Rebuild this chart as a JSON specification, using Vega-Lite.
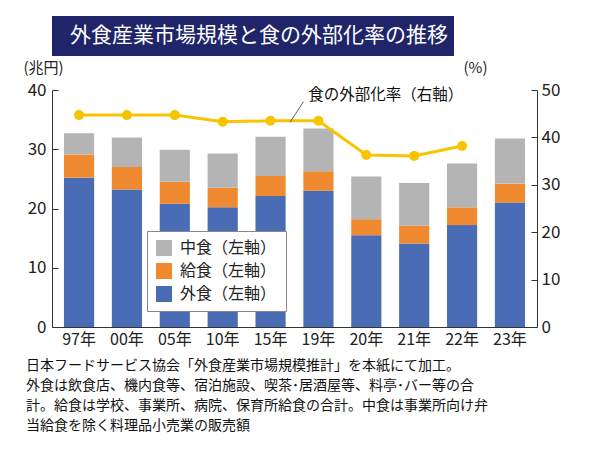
{
  "$schema": "https://vega.github.io/schema/vega-lite/v6.json",
  "padding": {"left": 23, "top": 16, "right": 5, "bottom": 5},
  "bounds": "flush",
  "spacing": 34,
  "datasets": {
    "bars": [
      {"year": "97年", "kind": "外食（左軸）", "value": 25.2},
      {"year": "97年", "kind": "給食（左軸）", "value": 3.9},
      {"year": "97年", "kind": "中食（左軸）", "value": 3.6},
      {"year": "00年", "kind": "外食（左軸）", "value": 23.2},
      {"year": "00年", "kind": "給食（左軸）", "value": 3.8},
      {"year": "00年", "kind": "中食（左軸）", "value": 5.0},
      {"year": "05年", "kind": "外食（左軸）", "value": 20.8},
      {"year": "05年", "kind": "給食（左軸）", "value": 3.7},
      {"year": "05年", "kind": "中食（左軸）", "value": 5.4},
      {"year": "10年", "kind": "外食（左軸）", "value": 20.2},
      {"year": "10年", "kind": "給食（左軸）", "value": 3.3},
      {"year": "10年", "kind": "中食（左軸）", "value": 5.8},
      {"year": "15年", "kind": "外食（左軸）", "value": 22.1},
      {"year": "15年", "kind": "給食（左軸）", "value": 3.4},
      {"year": "15年", "kind": "中食（左軸）", "value": 6.6},
      {"year": "19年", "kind": "外食（左軸）", "value": 23.0},
      {"year": "19年", "kind": "給食（左軸）", "value": 3.3},
      {"year": "19年", "kind": "中食（左軸）", "value": 7.2},
      {"year": "20年", "kind": "外食（左軸）", "value": 15.5},
      {"year": "20年", "kind": "給食（左軸）", "value": 2.7},
      {"year": "20年", "kind": "中食（左軸）", "value": 7.2},
      {"year": "21年", "kind": "外食（左軸）", "value": 14.1},
      {"year": "21年", "kind": "給食（左軸）", "value": 3.0},
      {"year": "21年", "kind": "中食（左軸）", "value": 7.2},
      {"year": "22年", "kind": "外食（左軸）", "value": 17.2},
      {"year": "22年", "kind": "給食（左軸）", "value": 3.0},
      {"year": "22年", "kind": "中食（左軸）", "value": 7.4},
      {"year": "23年", "kind": "外食（左軸）", "value": 21.0},
      {"year": "23年", "kind": "給食（左軸）", "value": 3.2},
      {"year": "23年", "kind": "中食（左軸）", "value": 7.6}
    ],
    "rate": [
      {"year": "97年", "rate": 44.7},
      {"year": "00年", "rate": 44.7},
      {"year": "05年", "rate": 44.7},
      {"year": "10年", "rate": 43.3},
      {"year": "15年", "rate": 43.5},
      {"year": "19年", "rate": 43.5},
      {"year": "20年", "rate": 36.3},
      {"year": "21年", "rate": 36.1},
      {"year": "22年", "rate": 38.2}
    ]
  },
  "vconcat": [
    {
      "width": 402,
      "height": 40,
      "view": {"fill": "#1f2568", "stroke": null},
      "data": {"values": [{"t": "外食産業市場規模と食の外部化率の推移"}]},
      "mark": {"type": "text", "color": "#ffffff", "fontSize": 21, "align": "center", "baseline": "middle", "dx": 6},
      "encoding": {"text": {"field": "t"}}
    },
    {
      "width": 485,
      "height": 237,
      "title": {
        "text": [
          "日本フードサービス協会「外食産業市場規模推計」を本紙にて加工。",
          "外食は飲食店、機内食等、宿泊施設、喫茶･居酒屋等、料亭･バー等の合",
          "計。給食は学校、事業所、病院、保育所給食の合計。中食は事業所向け弁",
          "当給食を除く料理品小売業の販売額"
        ],
        "orient": "bottom",
        "anchor": "start",
        "frame": "group",
        "dx": -26,
        "offset": 12,
        "fontSize": 14,
        "lineHeight": 20,
        "fontWeight": "normal",
        "color": "#111111"
      },
      "layer": [
        {
          "data": {"name": "bars"},
          "transform": [
            {"calculate": "indexof(['外食（左軸）', '給食（左軸）', '中食（左軸）'], datum.kind)", "as": "stackorder"}
          ],
          "mark": {"type": "bar"},
          "encoding": {
            "x": {
              "field": "year", "type": "nominal",
              "scale": {"domain": ["97年", "00年", "05年", "10年", "15年", "19年", "20年", "21年", "22年", "23年"], "paddingInner": 0.37, "paddingOuter": 0.25},
              "axis": {"title": null, "labelAngle": 0, "ticks": false, "domainColor": "#333333", "labelFontSize": 16, "labelColor": "#222222", "labelPadding": 4}
            },
            "y": {
              "field": "value", "type": "quantitative", "stack": "zero",
              "scale": {"domain": [0, 40]},
              "axis": {"title": "(兆円)", "titleAngle": 0, "titleAlign": "left", "titleBaseline": "middle", "titleX": -29, "titleY": -23, "titleFontSize": 15, "titleFontWeight": "normal", "titleColor": "#222222", "values": [0, 10, 20, 30, 40], "grid": false, "tickSize": -6, "labelPadding": 12, "domainColor": "#333333", "tickColor": "#333333", "labelFontSize": 17, "labelColor": "#222222"}
            },
            "order": {"field": "stackorder", "type": "quantitative"},
            "color": {
              "field": "kind", "type": "nominal",
              "sort": ["中食（左軸）", "給食（左軸）", "外食（左軸）"],
              "scale": {"domain": ["中食（左軸）", "給食（左軸）", "外食（左軸）"], "range": ["#b4b4b4", "#f08a30", "#4a6cb4"]},
              "legend": {"title": null, "orient": "none", "legendX": 95, "legendY": 215, "fillColor": "#ffffff", "strokeColor": "#888888", "padding": 9, "symbolType": "square", "symbolSize": 256, "symbolStrokeWidth": 0, "symbolOpacity": 1, "labelFontSize": 16, "labelColor": "#222222", "rowPadding": 7, "labelOffset": 8}
            }
          }
        },
        {
          "layer": [
            {
              "data": {"name": "rate"},
              "mark": {"type": "line", "color": "#f8c300", "strokeWidth": 3},
              "encoding": {
                "x": {"field": "year", "type": "nominal"},
                "y": {
                  "field": "rate", "type": "quantitative",
                  "scale": {"domain": [0, 50]},
                  "axis": {"orient": "right", "title": "(%)", "titleAngle": 0, "titleAlign": "left", "titleBaseline": "middle", "titleX": -74, "titleY": -23, "titleFontSize": 15, "titleFontWeight": "normal", "titleColor": "#222222", "values": [0, 10, 20, 30, 40, 50], "grid": false, "tickSize": -6, "labelPadding": 10, "domainColor": "#333333", "tickColor": "#333333", "labelFontSize": 17, "labelColor": "#222222"}
                }
              }
            },
            {
              "data": {"name": "rate"},
              "mark": {"type": "point", "filled": true, "color": "#f8c300", "size": 100, "opacity": 1},
              "encoding": {
                "x": {"field": "year", "type": "nominal"},
                "y": {"field": "rate", "type": "quantitative"}
              }
            },
            {
              "data": {"values": [{"label": "食の外部化率（右軸）"}]},
              "mark": {"type": "text", "align": "left", "baseline": "middle", "fontSize": 15.5, "color": "#111111", "dx": 5},
              "encoding": {
                "x": {"datum": "19年", "bandPosition": 0},
                "y": {"datum": 48.9},
                "text": {"field": "label"}
              }
            },
            {
              "data": {"values": [{"note": "leader"}]},
              "mark": {"type": "rule", "color": "#333333", "strokeWidth": 0.8},
              "encoding": {
                "x": {"datum": "19年", "bandPosition": -0.44},
                "x2": {"datum": "19年", "bandPosition": 0},
                "y": {"datum": 43.2},
                "y2": {"datum": 47.5}
              }
            }
          ]
        }
      ],
      "resolve": {"scale": {"y": "independent"}}
    }
  ],
  "config": {
    "font": "Noto Sans CJK JP",
    "view": {"stroke": null}
  }
}
